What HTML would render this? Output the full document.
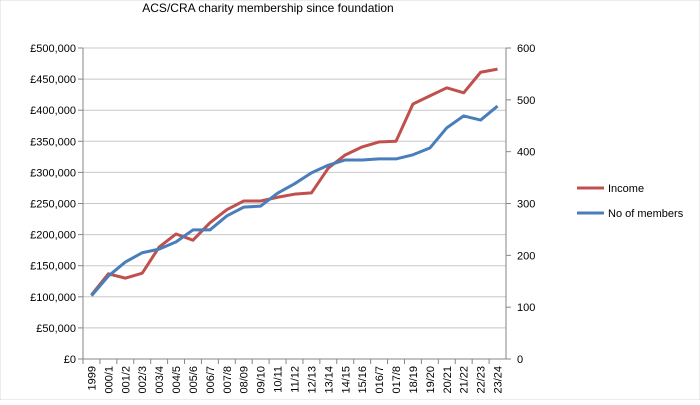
<!DOCTYPE html>
<html><head><meta charset="utf-8"><style>
body{margin:0;background:#fff;font-family:"Liberation Sans",sans-serif}
svg text{font-family:"Liberation Sans",sans-serif;fill:#000}
</style></head><body>
<svg id="chart" width="700" height="400" xmlns="http://www.w3.org/2000/svg">
<rect x="0" y="0" width="700" height="400" fill="#fff" stroke="#d9d9d9"/>
<text x="268" y="12" text-anchor="middle" font-size="12">ACS/CRA  charity membership since foundation</text>
<g id="grid"></g><g id="axes"></g><g id="series"></g>
<g>
<line x1="577" y1="188" x2="604" y2="188" stroke="#c0504d" stroke-width="3"/>
<text x="608" y="192" font-size="11">Income</text>
<line x1="577" y1="213" x2="604" y2="213" stroke="#4a7ebb" stroke-width="3"/>
<text x="608" y="217" font-size="11">No of members</text>
</g>
</svg>
<script>
const categories=["1999","000/1","001/2","002/3","003/4","004/5","005/6","006/7","007/8","08/09","09/10","10/11","11/12","12/13","13/14","14/15","15/16","016/7","017/8","18/19","19/20","20/21","21/22","22/23","23/24"];
const income=[103000,137000,130000,138000,180000,201000,191000,219000,240000,254000,254000,260000,265000,267000,307000,328000,341000,349000,350000,410000,423000,436000,428000,461000,466000];
const members=[122,160,187,205,212,226,249,249,276,293,295,320,338,359,374,384,384,386,386,394,407,446,469,461,488];
const leftTicks=[0,50000,100000,150000,200000,250000,300000,350000,400000,450000,500000];
const rightTicks=[0,100,200,300,400,500,600];
const X0=83,X1=506,Y0=359,Y1=48;
const NS="http://www.w3.org/2000/svg";
const step=(X1-X0)/categories.length;
const x=i=>X0+step*(i+0.5);
const yL=v=>Y0-(v/500000)*(Y0-Y1);
const yR=v=>Y0-(v/600)*(Y0-Y1);
function mk(tag,attrs,parent){const e=document.createElementNS(NS,tag);for(const k in attrs)e.setAttribute(k,attrs[k]);parent.appendChild(e);return e;}
const grid=document.getElementById('grid'),axes=document.getElementById('axes'),ser=document.getElementById('series');
leftTicks.forEach(v=>{
 const l=mk('line',{x1:X0,x2:X1,y1:yL(v),y2:yL(v),stroke:v===0?'#868686':'#c8c8c8'},grid);
 
 
 const t=mk('text',{x:X0-7,y:yL(v)+4,'text-anchor':'end','font-size':'11'},axes);
 t.textContent='£'+v.toLocaleString('en-GB');
 
 
});
rightTicks.forEach(v=>{
 const tk=mk('line',{x1:X1,x2:X1+5,y1:yR(v),y2:yR(v),stroke:'#868686'},axes);
 
 
 const t=mk('text',{x:X1+11,y:yR(v)+4,'font-size':'11'},axes);
 t.textContent=v;
 
 
});
const la=mk('line',{x1:X0,x2:X0,y1:Y1,y2:Y0,stroke:'#868686'},axes);


const ra=mk('line',{x1:X1,x2:X1,y1:Y1,y2:Y0,stroke:'#868686'},axes);


leftTicks.forEach(v=>{const t=mk('line',{x1:X0-5,x2:X0,y1:yL(v),y2:yL(v),stroke:'#868686'},axes);
 
 });
categories.forEach((c,i)=>{
 const tk=mk('line',{x1:X0+step*i,x2:X0+step*i,y1:Y0,y2:Y0+5,stroke:'#868686'},axes);
 
 
 const t=mk('text',{x:0,y:0,'text-anchor':'end','font-size':'11',transform:`translate(${x(i)+4},${Y0+7}) rotate(-90)`},axes);
 t.textContent=c;
 
 
});
const pi=mk('polyline',{points:income.map((v,i)=>x(i)+','+yL(v)).join(' '),fill:'none',stroke:'#c0504d','stroke-width':3,'stroke-linejoin':'round'},ser);


const pm=mk('polyline',{points:members.map((v,i)=>x(i)+','+yR(v)).join(' '),fill:'none',stroke:'#4a7ebb','stroke-width':3,'stroke-linejoin':'round'},ser);


</script>
</body></html>
